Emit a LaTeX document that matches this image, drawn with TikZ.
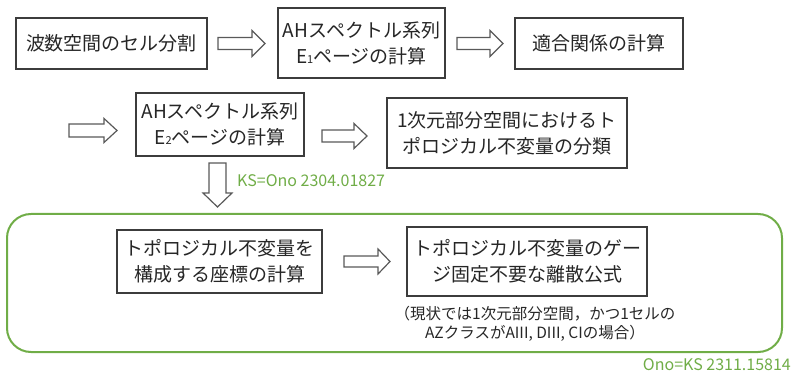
\documentclass[tikz,border=0pt]{standalone}
\usepackage{fontspec}
\setmainfont{Noto Sans CJK JP}
\definecolor{grn}{RGB}{112,173,71}
\definecolor{edge}{RGB}{60,60,60}
\newcommand\harrow[6]{% x1 x2 yc halfshaft halfhead headlen
  \draw[blk] (#1,#3-#4) -- (#2-#6,#3-#4) -- (#2-#6,#3-#5) -- (#2,#3) -- (#2-#6,#3+#5) -- (#2-#6,#3+#4) -- (#1,#3+#4) -- cycle;}
\newcommand\varrow[6]{% y1 y2 xc halfshaft halfhead headlen
  \draw[blk] (#3-#4,#1) -- (#3-#4,#2-#6) -- (#3-#5,#2-#6) -- (#3,#2) -- (#3+#5,#2-#6) -- (#3+#4,#2-#6) -- (#3+#4,#1) -- cycle;}
\begin{document}
\begin{tikzpicture}[x=1pt,y=-1pt,
  box/.style={draw=edge,line width=1.3pt,fill=white,inner sep=0pt,align=center,
    font=\fontsize{19}{26}\selectfont,text=black!85},
  blk/.style={draw=edge!85,line width=1.2pt,fill=white,line join=miter},
  grnlabel/.style={text=grn,font=\fontsize{16}{16}\selectfont,inner sep=0pt,anchor=west}]
\useasboundingbox (0,0) rectangle (793,374);
\clip (0,0) rectangle (793,374);
% green frame
\draw[grn,line width=2pt,rounded corners=24pt] (7,214) rectangle (782,352);
% boxes
\node[box,minimum width=191pt,minimum height=51pt] (b1) at (111.5,43.5) {波数空間のセル分割};
\node[box,minimum width=167pt,minimum height=70pt] (b2) at (361.5,43) {AHスペクトル系列\\E{\fontsize{11}{11}\selectfont 1}ページの計算};
\node[box,minimum width=168pt,minimum height=51pt] (b3) at (599,43.5) {適合関係の計算};
\node[box,minimum width=168pt,minimum height=63pt] (b4) at (220,124.5) {AHスペクトル系列\\E{\fontsize{11}{11}\selectfont 2}ページの計算};
\node[box,minimum width=240pt,minimum height=70pt] (b5) at (507,133) {1次元部分空間におけるト\\ポロジカル不変量の分類};
\node[box,minimum width=205pt,minimum height=63pt] (b6) at (219.5,261.5) {トポロジカル不変量を\\構成する座標の計算};
\node[box,minimum width=240pt,minimum height=69pt] (b7) at (527,261.5) {トポロジカル不変量のゲー\\ジ固定不要な離散公式};
% note
\node[align=center,inner sep=0pt,font=\fontsize{15.5}{19.5}\selectfont,text=black!85] (note) at (535,324) {（現状では1次元部分空間，かつ1セルの\\AZクラスがAIII, DIII, CIの場合）};
% block arrows
\harrow{218}{265}{43.5}{6}{13}{13}
\harrow{457}{503}{43.5}{6}{13}{13}
\harrow{69}{117}{130.5}{6.5}{12}{13}
\harrow{322}{367}{136}{6}{12.5}{13}
\harrow{344}{390}{261.5}{5.5}{12.5}{12}
\varrow{163}{207}{217.5}{8.5}{14.5}{14}
% green labels
\node[grnlabel] (ks) at (237,181) {KS=Ono 2304.01827};
\node[grnlabel,anchor=east] (ono) at (791,365) {Ono=KS 2311.15814};
\end{tikzpicture}
\end{document}
